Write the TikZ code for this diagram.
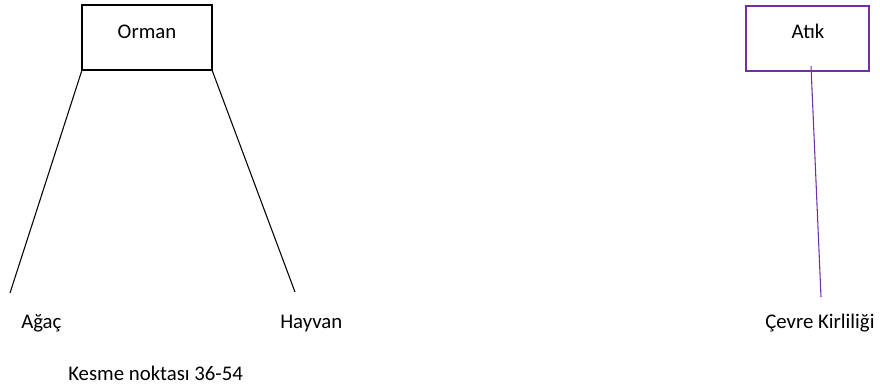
\documentclass[tikz,border=0pt]{standalone}
\usepackage{fontspec}
\setmainfont{Carlito}
\definecolor{atikpurple}{HTML}{7030A0}
\begin{document}
\begin{tikzpicture}[x=0.75pt,y=-0.75pt,
  box/.style={draw,line width=1.3pt,inner sep=0pt},
  lbl/.style={anchor=base west,inner sep=0pt,font=\fontsize{15.6}{18}\selectfont},
  conn/.style={line width=0.8pt}]
\useasboundingbox (0,0) rectangle (880,387);
\node[box,minimum width=130*0.75pt,minimum height=65*0.75pt] (orman) at (147,37.5) {};
\node[lbl,anchor=base] (ormant) at (147,38) {Orman};
\node[box,draw=atikpurple,minimum width=123*0.75pt,minimum height=65*0.75pt] (atik) at (807.5,38.5) {};
\node[lbl,anchor=base] (atikt) at (808,38) {Atık};
\coordinate (ol) at (82,70);
\coordinate (or) at (212,70);
\coordinate (aend) at (10,293);
\coordinate (hend) at (295,292);
\coordinate (atop) at (811,66);
\coordinate (cend) at (821,297);
\draw[conn] (ol) -- (aend);
\draw[conn] (or) -- (hend);
\draw[conn,atikpurple] (atop) -- (cend);
\node[lbl] (agac) at (21,328) {Ağaç};
\node[lbl] (hayvan) at (280,328) {Hayvan};
\node[lbl] (cevre) at (765,328) {Çevre Kirliliği};
\node[lbl] (kesme) at (68,380) {Kesme noktası 36-54};
\end{tikzpicture}
\end{document}
